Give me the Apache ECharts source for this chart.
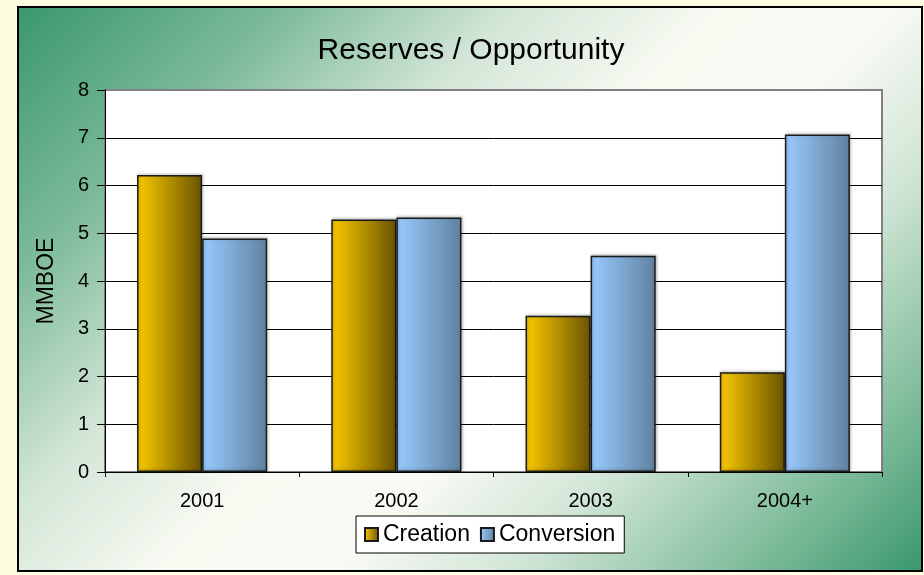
<!DOCTYPE html>
<html>
<head>
<meta charset="utf-8">
<script src="https://cdn.jsdelivr.net/npm/echarts@6/dist/echarts.min.js"></script>
<style>
  html, body { margin: 0; padding: 0; background: #fffde1; }
  #chart { width: 924px; height: 575px; }
</style>
</head>
<body>
<div id="chart"></div>
<script>
// Chart data
const categories = ['2001', '2002', '2003', '2004+'];
const creation = [6.22, 5.29, 3.27, 2.09];
const conversion = [4.89, 5.33, 4.53, 7.07];
const seriesNames = ['Creation', 'Conversion'];
const yTicks = [0, 1, 2, 3, 4, 5, 6, 7, 8];
const titleText = 'Reserves / Opportunity';
const yAxisName = 'MMBOE';

const FONT = '"Liberation Sans", Arial, sans-serif';

function hGrad(c0, c1) {
  return new echarts.graphic.LinearGradient(0, 0, 1, 0, [
    { offset: 0, color: c0 },
    { offset: 1, color: c1 }
  ]);
}

const chart = echarts.init(document.getElementById('chart'), null, { renderer: 'canvas' });

const option = {
  backgroundColor: '#fffde1',
  animation: false,
  title: {
    text: titleText,
    left: 471,
    top: 36,
    padding: 0,
    textAlign: 'center',
    textStyle: { fontFamily: FONT, fontSize: 30, fontWeight: 'normal', color: '#000' }
  },
  graphic: [
    {
      type: 'rect',
      z: -100,
      shape: { x: 18, y: 7, width: 904, height: 564 },
      style: {
        fill: {
          type: 'linear', global: true,
          x: 18, y: 7, x2: 752, y2: 741,
          colorStops: [
            { offset: 0.00, color: '#3a986c' },
            { offset: 0.18, color: '#7cba99' },
            { offset: 0.34, color: '#d3e6d8' },
            { offset: 0.48, color: '#f8faf2' },
            { offset: 0.60, color: '#f8faf3' },
            { offset: 0.72, color: '#d2e6d7' },
            { offset: 0.86, color: '#88c1a1' },
            { offset: 1.00, color: '#3a986c' }
          ]
        },
        stroke: '#000',
        lineWidth: 2
      }
    }
  ],
  grid: {
    left: 105, right: 42, top: 90, bottom: 103,
    show: true,
    backgroundColor: '#ffffff',
    borderColor: '#808080',
    borderWidth: 2
  },
  legend: {
    data: seriesNames,
    left: 356,
    top: 516,
    padding: [7, 9, 7, 8],
    itemWidth: 13,
    itemHeight: 13,
    itemGap: 10,
    icon: 'rect',
    backgroundColor: '#ffffff',
    borderColor: '#000',
    borderWidth: 1,
    borderRadius: 0,
    textStyle: { fontFamily: FONT, fontSize: 23, color: '#000' }
  },
  xAxis: {
    type: 'category',
    data: categories,
    axisLine: { lineStyle: { color: '#000', width: 1 } },
    axisTick: { show: true, length: 5, lineStyle: { color: '#000' } },
    axisLabel: { fontFamily: FONT, fontSize: 20, color: '#000', margin: 19 }
  },
  yAxis: {
    type: 'value',
    min: yTicks[0],
    max: yTicks[yTicks.length - 1],
    interval: 1,
    name: yAxisName,
    nameLocation: 'middle',
    nameGap: 47,
    nameTextStyle: { fontFamily: FONT, fontSize: 23, color: '#000' },
    axisLine: { show: true, lineStyle: { color: '#000', width: 1 } },
    axisTick: { show: true, length: 8, lineStyle: { color: '#000' } },
    axisLabel: { fontFamily: FONT, fontSize: 20, color: '#000', margin: 16 },
    splitLine: {
      show: true,
      lineStyle: {
        color: ['#000', '#000', '#000', '#000', '#000', '#000', '#000', '#000', 'rgba(0,0,0,0)'],
        width: 1
      }
    }
  },
  series: [
    {
      name: seriesNames[0],
      type: 'bar',
      data: creation,
      barGap: '0%',
      barCategoryGap: '33%',
      itemStyle: {
        color: hGrad('#fccb00', '#6a5300'),
        borderColor: '#1a1a1a',
        borderWidth: 1.5,
        shadowColor: 'rgba(0,0,0,0.25)',
        shadowBlur: 3,
        shadowOffsetX: 1,
        shadowOffsetY: -1
      }
    },
    {
      name: seriesNames[1],
      type: 'bar',
      data: conversion,
      itemStyle: {
        color: hGrad('#99ccff', '#60819f'),
        borderColor: '#1a1a1a',
        borderWidth: 1.5,
        shadowColor: 'rgba(0,0,0,0.25)',
        shadowBlur: 3,
        shadowOffsetX: 1,
        shadowOffsetY: -1
      }
    }
  ]
};

chart.setOption(option);
</script>
</body>
</html>
